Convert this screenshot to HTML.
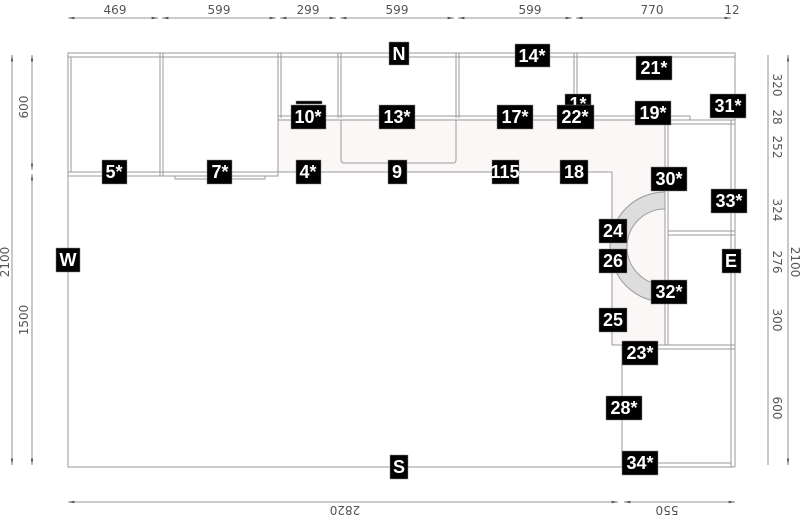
<!DOCTYPE html>
<html><head><style>
html,body{margin:0;padding:0;background:#fff;}
svg{display:block;}
.d{font-family:"DejaVu Sans","Liberation Sans",sans-serif;font-size:12px;fill:#555;}
.lb rect{fill:#000;stroke:#888;stroke-width:0.5;}
.lb text{font-family:"Liberation Sans",sans-serif;font-weight:bold;font-size:18px;fill:#fff;text-anchor:middle;}
</style></head><body>
<svg width="800" height="520" viewBox="0 0 800 520" xmlns="http://www.w3.org/2000/svg">
<defs>
<marker id="a" markerWidth="8" markerHeight="6" refX="8" refY="3" orient="auto-start-reverse"><path d="M0,1.5 L8,3 L0,4.5z" fill="#555"/></marker>
</defs>
<path d="M278,118 H665 V345 H612 V172 H278 Z" fill="#faf7f6"/>
<g fill="none" stroke="#999" stroke-width="1">
<path d="M68,53 V467 H622"/>
<rect x="68" y="53" width="667" height="4"/>
<line x1="160" y1="53" x2="160" y2="176"/><line x1="163" y1="53" x2="163" y2="176"/>
<line x1="278" y1="53" x2="278" y2="176"/><line x1="281" y1="53" x2="281" y2="118"/>
<line x1="338" y1="53" x2="338" y2="118"/><line x1="341" y1="53" x2="341" y2="118"/>
<line x1="456" y1="53" x2="456" y2="118"/><line x1="459" y1="53" x2="459" y2="118"/>
<line x1="574" y1="53" x2="574" y2="118"/><line x1="577" y1="53" x2="577" y2="118"/>
<line x1="71" y1="57" x2="71" y2="172"/>
<rect x="68" y="172" width="210" height="4"/>
<line x1="278" y1="172" x2="612" y2="172"/>
<rect x="278" y="116" width="412" height="4"/>
<path d="M341,120 V160 Q341,163 344,163 H453 Q456,163 456,160 V120"/>
<rect x="175" y="176" width="90" height="3"/>
<line x1="735" y1="53" x2="735" y2="467"/><line x1="731" y1="120" x2="731" y2="467"/>
<line x1="665" y1="118" x2="665" y2="345"/><line x1="668" y1="120" x2="668" y2="345"/>
<line x1="668" y1="120" x2="735" y2="120"/><line x1="668" y1="124" x2="735" y2="124"/>
<line x1="668" y1="231" x2="735" y2="231"/><line x1="668" y1="235" x2="735" y2="235"/>
<line x1="612" y1="172" x2="612" y2="345"/>
<line x1="612" y1="345" x2="735" y2="345"/><line x1="622" y1="349" x2="735" y2="349"/>
<line x1="622" y1="345" x2="622" y2="467"/>
<line x1="622" y1="467" x2="735" y2="467"/><line x1="626" y1="463" x2="731" y2="463"/>
</g>
<path d="M665,192 A55,55 0 0 0 665,302 V285 A38,38 0 0 1 665,209 Z" fill="#ddd" stroke="#999"/>
<g stroke="#777" stroke-width="0.8" fill="none">
<line x1="68" y1="18" x2="158" y2="18" marker-start="url(#a)" marker-end="url(#a)"/>
<line x1="162" y1="18" x2="276" y2="18" marker-start="url(#a)" marker-end="url(#a)"/>
<line x1="280" y1="18" x2="336" y2="18" marker-start="url(#a)" marker-end="url(#a)"/>
<line x1="340" y1="18" x2="454" y2="18" marker-start="url(#a)" marker-end="url(#a)"/>
<line x1="458" y1="18" x2="572" y2="18" marker-start="url(#a)" marker-end="url(#a)"/>
<line x1="576" y1="18" x2="731" y2="18" marker-start="url(#a)" marker-end="url(#a)"/>
<line x1="12" y1="55" x2="12" y2="465" marker-start="url(#a)" marker-end="url(#a)"/>
<line x1="32" y1="55" x2="32" y2="170" marker-start="url(#a)" marker-end="url(#a)"/>
<line x1="32" y1="174" x2="32" y2="465" marker-start="url(#a)" marker-end="url(#a)"/>
<line x1="788" y1="55" x2="788" y2="465" marker-start="url(#a)" marker-end="url(#a)"/>
<line x1="768" y1="55" x2="768" y2="465"/>
<line x1="68" y1="502" x2="618" y2="502" marker-start="url(#a)" marker-end="url(#a)"/>
<line x1="624" y1="502" x2="735" y2="502" marker-start="url(#a)" marker-end="url(#a)"/>
</g>
<g class="d" text-anchor="middle">
<text x="115" y="14">469</text><text x="219" y="14">599</text><text x="308" y="14">299</text>
<text x="397" y="14">599</text><text x="530" y="14">599</text><text x="652" y="14">770</text><text x="732" y="14">12</text>
<text transform="translate(28,107) rotate(-90)">600</text>
<text transform="translate(28,320) rotate(-90)">1500</text>
<text transform="translate(9,262) rotate(-90)">2100</text>
<text transform="translate(773,85) rotate(90)">320</text>
<text transform="translate(773,117) rotate(90)">28</text>
<text transform="translate(773,147) rotate(90)">252</text>
<text transform="translate(773,210) rotate(90)">324</text>
<text transform="translate(773,262) rotate(90)">276</text>
<text transform="translate(773,320) rotate(90)">300</text>
<text transform="translate(773,408) rotate(90)">600</text>
<text transform="translate(791,262) rotate(90)">2100</text>
<text transform="translate(345,506) rotate(180)">2820</text>
<text transform="translate(667,506) rotate(180)">550</text>
</g>
<g class="lb">
<rect x="565" y="94" width="26" height="18"/><text x="578" y="110">1*</text>
<rect x="389" y="42" width="20" height="23"/><text x="399" y="60">N</text>
<rect x="515" y="44" width="35" height="23"/><text x="532" y="62">14*</text>
<rect x="636" y="56" width="36" height="24"/><text x="654" y="74">21*</text>
<rect x="710" y="94" width="36" height="24"/><text x="728" y="112">31*</text>
<rect x="291" y="105" width="35" height="24"/><text x="308" y="123">10*</text>
<rect x="296" y="101" width="26" height="3"/>
<rect x="379" y="105" width="36" height="24"/><text x="397" y="123">13*</text>
<rect x="497" y="105" width="36" height="24"/><text x="515" y="123">17*</text>
<rect x="557" y="105" width="37" height="24"/><text x="575" y="123">22*</text>
<rect x="635" y="101" width="36" height="24"/><text x="653" y="119">19*</text>
<rect x="102" y="160" width="25" height="24"/><text x="114" y="178">5*</text>
<rect x="207" y="160" width="25" height="24"/><text x="220" y="178">7*</text>
<rect x="296" y="160" width="25" height="24"/><text x="308" y="178">4*</text>
<rect x="388" y="160" width="19" height="24"/><text x="397" y="178">9</text>
<rect x="492" y="160" width="27" height="24"/><text x="505" y="178">115</text>
<rect x="560" y="160" width="28" height="24"/><text x="574" y="178">18</text>
<rect x="651" y="167" width="36" height="24"/><text x="669" y="185">30*</text>
<rect x="711" y="189" width="36" height="24"/><text x="729" y="207">33*</text>
<rect x="599" y="219" width="28" height="24"/><text x="613" y="237">24</text>
<rect x="599" y="249" width="28" height="24"/><text x="613" y="267">26</text>
<rect x="722" y="249" width="19" height="24"/><text x="731" y="267">E</text>
<rect x="56" y="248" width="24" height="24"/><text x="68" y="266">W</text>
<rect x="651" y="280" width="36" height="24"/><text x="669" y="298">32*</text>
<rect x="599" y="308" width="28" height="24"/><text x="613" y="326">25</text>
<rect x="622" y="341" width="36" height="24"/><text x="640" y="359">23*</text>
<rect x="606" y="396" width="36" height="24"/><text x="624" y="414">28*</text>
<rect x="622" y="451" width="36" height="24"/><text x="640" y="469">34*</text>
<rect x="390" y="455" width="18" height="24"/><text x="399" y="473">S</text>
</g>
</svg>
</body></html>
